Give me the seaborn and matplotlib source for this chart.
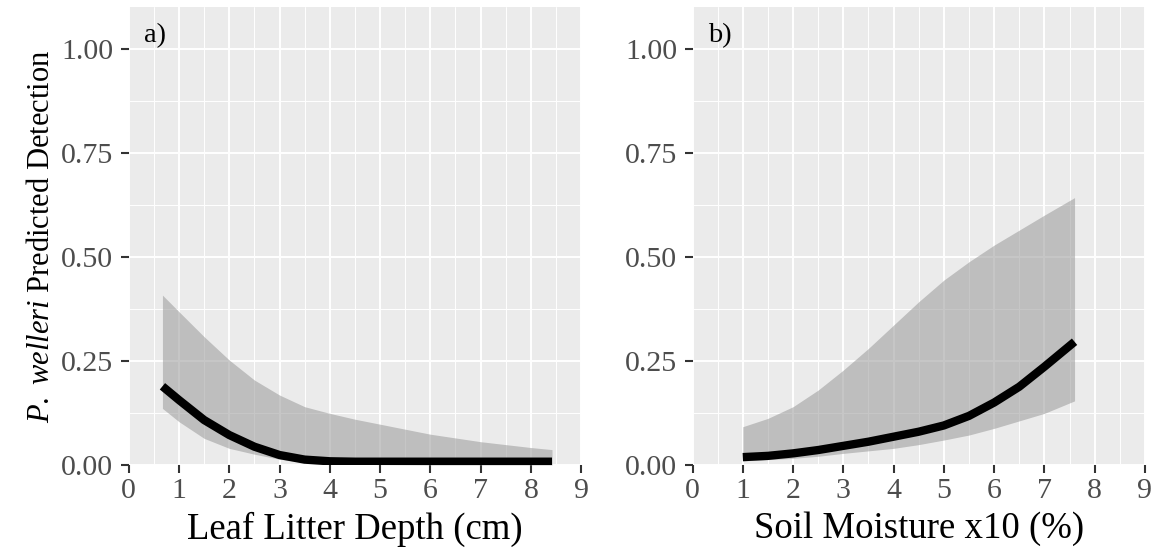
import numpy as np
import pandas as pd
import matplotlib
matplotlib.use("Agg")
import matplotlib.pyplot as plt
from matplotlib.ticker import MultipleLocator
import seaborn as sns

# --------------------------------------------------------------------
# DATA
# --------------------------------------------------------------------

# a) leaf litter depth
litter_x = [0.67, 1.0, 1.5, 2.0, 2.5, 3.0, 3.5, 4.0, 4.5, 5.0, 6.0, 7.0, 8.0, 8.42]
litter_fit = [0.189, 0.156, 0.108, 0.072, 0.044, 0.024, 0.013, 0.009, 0.008, 0.008, 0.008, 0.008, 0.008, 0.008]
litter_upper = [0.408, 0.368, 0.308, 0.252, 0.204, 0.168, 0.140, 0.124, 0.110, 0.098, 0.074, 0.056, 0.042, 0.037]
litter_lower = [0.136, 0.104, 0.064, 0.040, 0.026, 0.014, 0.007, 0.003, 0.002, 0.001, 0.0, 0.0, 0.0, 0.0]

# b) soil moisture
moist_x = [1.0, 1.5, 2.0, 2.5, 3.0, 3.5, 4.0, 4.5, 5.0, 5.5, 6.0, 6.5, 7.0, 7.6]
moist_fit = [0.019, 0.022, 0.028, 0.036, 0.046, 0.056, 0.068, 0.080, 0.095, 0.118, 0.150, 0.188, 0.236, 0.296]
moist_upper = [0.092, 0.112, 0.140, 0.180, 0.228, 0.280, 0.336, 0.392, 0.444, 0.488, 0.528, 0.564, 0.600, 0.642]
moist_lower = [0.010, 0.013, 0.016, 0.021, 0.028, 0.034, 0.040, 0.049, 0.060, 0.072, 0.088, 0.106, 0.124, 0.154]

x_ticks = [0, 1, 2, 3, 4, 5, 6, 7, 8, 9]
y_ticks = [0.00, 0.25, 0.50, 0.75, 1.00]
y_tick_labels = ["0.00", "0.25", "0.50", "0.75", "1.00"]

panels = [
    ("a)", "Leaf Litter Depth (cm)", litter_x, litter_fit, litter_upper, litter_lower),
    ("b)", "Soil Moisture x10 (%)", moist_x, moist_fit, moist_upper, moist_lower),
]

# --------------------------------------------------------------------
# STYLE
# --------------------------------------------------------------------

sns.set_theme(style="darkgrid", rc={
    "axes.facecolor": "#EBEBEB",
    "grid.color": "white",
})
plt.rcParams["font.family"] = ["Liberation Serif", "DejaVu Serif"]
plt.rcParams["mathtext.fontset"] = "custom"
plt.rcParams["mathtext.rm"] = "Liberation Serif"
plt.rcParams["mathtext.it"] = "Liberation Serif:italic"

fig = plt.figure(figsize=(11.6, 5.54), dpi=100)
ax_a = fig.add_axes([0.111, 0.1606, 0.390, 0.827])
ax_b = fig.add_axes([0.597, 0.1606, 0.390, 0.827])

for ax, (tag, xlabel, xs, fit, upper, lower) in zip([ax_a, ax_b], panels):
    df = pd.DataFrame({"x": xs, "fit": fit, "upper": upper, "lower": lower})

    # confidence ribbon + fitted curve
    ax.fill_between(df["x"], df["lower"], df["upper"], color="#999999",
                    alpha=0.55, linewidth=0, zorder=2)
    sns.lineplot(data=df, x="x", y="fit", ax=ax, color="black",
                 linewidth=6, zorder=3, solid_capstyle="butt",
                 solid_joinstyle="round")

    ax.set_xlim(0, 9)
    ax.set_ylim(0, 1.1)
    ax.set_xticks(x_ticks)
    ax.set_yticks(y_ticks)
    ax.set_yticklabels(y_tick_labels)
    ax.xaxis.set_minor_locator(MultipleLocator(0.5))
    ax.yaxis.set_minor_locator(MultipleLocator(0.125))

    ax.grid(which="major", color="white", linewidth=1.4)
    ax.grid(which="minor", color="white", linewidth=0.7)
    ax.set_axisbelow(True)
    for s in ax.spines.values():
        s.set_visible(False)

    ax.tick_params(which="major", length=6, width=1.5, color="#333333",
                   labelsize=21.5, labelcolor="#4D4D4D", pad=3,
                   bottom=True, left=True)
    ax.tick_params(axis="y", which="major", pad=5)
    ax.tick_params(which="minor", length=0)

    ax.set_xlabel(xlabel, fontsize=26.5, color="black", labelpad=6)
    ax.set_ylabel("")
    ax.text(0.3, 1.03, tag, fontsize=20.5, color="black", ha="left", va="center")

ax_a.set_ylabel(r"$\mathit{P.\ welleri}$ Predicted Detection", fontsize=22,
                color="black", labelpad=4)

fig.savefig("out.png", dpi=100)
plt.close(fig)
